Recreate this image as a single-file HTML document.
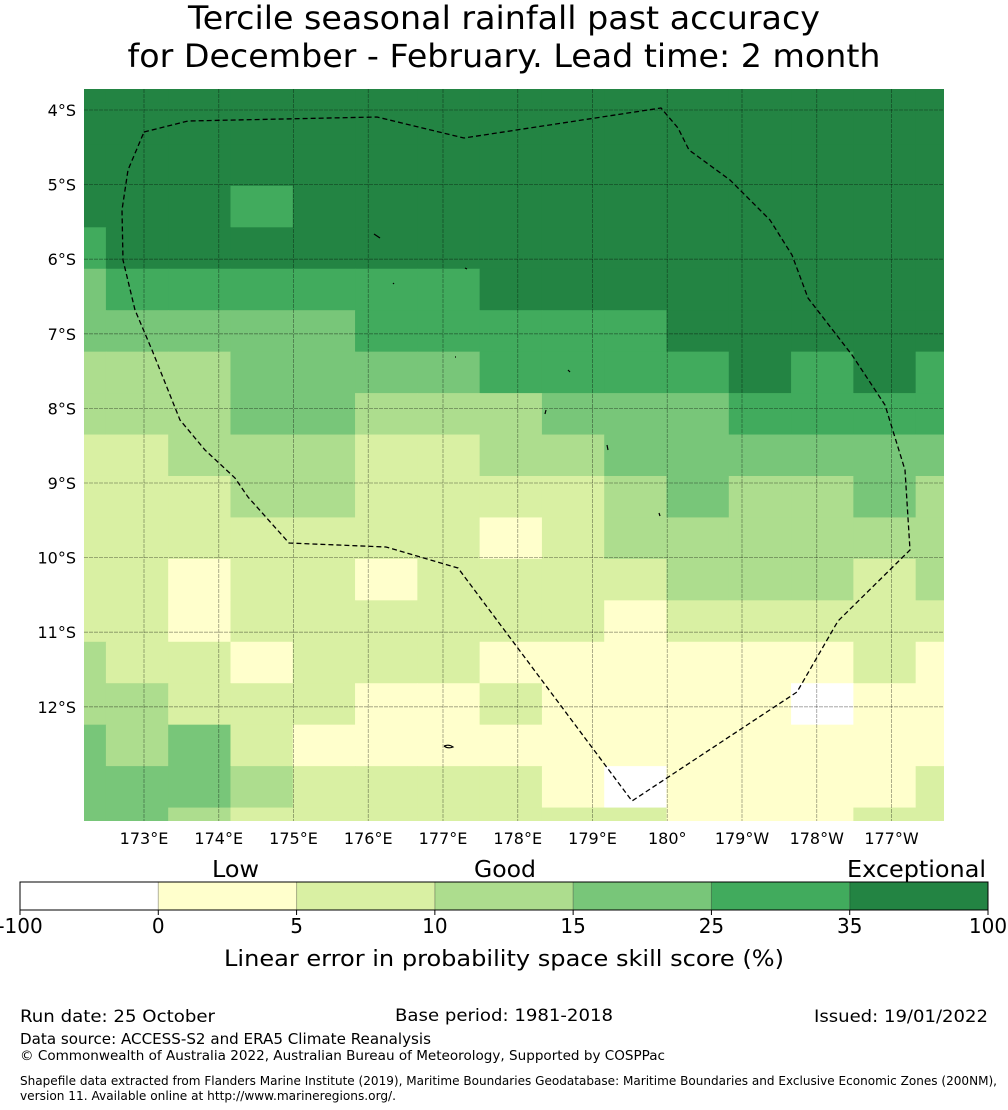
<!DOCTYPE html>
<html><head><meta charset="utf-8">
<style>
html,body{margin:0;padding:0;background:#fff;}
svg{display:block;font-family:"DejaVu Sans","Liberation Sans",sans-serif;}
</style></head>
<body>
<svg id="chart" width="1008" height="1110" viewBox="0 0 1008 1110" xmlns="http://www.w3.org/2000/svg">
  <text x="504" y="29" text-anchor="middle" font-size="32" textLength="632" lengthAdjust="spacingAndGlyphs">Tercile seasonal rainfall past accuracy</text>
  <text x="504" y="67" text-anchor="middle" font-size="32" textLength="753" lengthAdjust="spacingAndGlyphs">for December - February. Lead time: 2 month</text>
  <defs><clipPath id="mapclip"><rect x="84" y="89" width="860" height="732"/></clipPath></defs>
  <g id="cells" clip-path="url(#mapclip)"></g>
  <g id="grid" clip-path="url(#mapclip)"></g>
  <polyline id="eez" fill="none" stroke="#000" stroke-width="1.3" stroke-dasharray="5,3"
    points="144,132 188,121 377,117 464,138 661,108 678,128 689,150 730,180 770,220 792,255 808,298 852,355 885,405 905,470 910,550 838,621 797,692 632,801 458,568 386,547 289,543 248,497 235,478 205,450 180,420 152,350 135,310 123,260 122,210 128,170 144,132"/>
  <g stroke="#000" stroke-width="1.2" fill="none">
    <path d="M374,234 L380,238"/><path d="M465,268 L467,269"/><path d="M393,283 L394,284"/><path d="M455,357 L456,357"/>
    <path d="M568,370 L570,372"/><path d="M546,410 L545,414"/><path d="M607,445 L608,450"/><path d="M659,513 L660,516"/>
    <path d="M444,746 Q449,744 453,747 Q448,749 444,746"/>
  </g>
  <g id="xticks"></g>
  <g id="yticks"></g>
  <g id="colorbar"></g>
  <text x="212" y="877" font-size="23" textLength="47" lengthAdjust="spacingAndGlyphs">Low</text>
  <text x="474" y="877" font-size="23" textLength="62" lengthAdjust="spacingAndGlyphs">Good</text>
  <text x="847" y="877" font-size="23" textLength="139" lengthAdjust="spacingAndGlyphs">Exceptional</text>
  <text x="504" y="966" text-anchor="middle" font-size="22" textLength="560" lengthAdjust="spacingAndGlyphs">Linear error in probability space skill score (%)</text>
  <text x="20" y="1022" font-size="17" textLength="195" lengthAdjust="spacingAndGlyphs">Run date: 25 October</text>
  <text x="395" y="1021" font-size="17" textLength="218" lengthAdjust="spacingAndGlyphs">Base period: 1981-2018</text>
  <text x="988" y="1022" font-size="17" text-anchor="end" textLength="174" lengthAdjust="spacingAndGlyphs">Issued: 19/01/2022</text>
  <text x="20" y="1044" font-size="15" textLength="411" lengthAdjust="spacingAndGlyphs">Data source: ACCESS-S2 and ERA5 Climate Reanalysis</text>
  <text x="20" y="1060" font-size="13" textLength="645" lengthAdjust="spacingAndGlyphs">© Commonwealth of Australia 2022, Australian Bureau of Meteorology, Supported by COSPPac</text>
  <text x="20" y="1085" font-size="12" textLength="977" lengthAdjust="spacingAndGlyphs">Shapefile data extracted from Flanders Marine Institute (2019), Maritime Boundaries Geodatabase: Maritime Boundaries and Exclusive Economic Zones (200NM),</text>
  <text x="20" y="1100" font-size="12" textLength="376" lengthAdjust="spacingAndGlyphs">version 11. Available online at http://www.marineregions.org/.</text>
</svg>
<script>
// Skill category per cell (0..6 -> bins -100,0,5,10,15,25,35,100), rows north to south
const skillRows = [
 [6,6,6,6,6,6,6,6,6,6,6,6,6,6,6],
 [6,6,6,6,6,6,6,6,6,6,6,6,6,6,6],
 [6,6,6,6,6,6,6,6,6,6,6,6,6,6,6],
 [6,6,6,5,6,6,6,6,6,6,6,6,6,6,6],
 [5,6,6,6,6,6,6,6,6,6,6,6,6,6,6],
 [4,5,5,5,5,5,5,6,6,6,6,6,6,6,6],
 [4,4,4,4,4,5,5,5,5,5,6,6,6,6,6],
 [3,3,3,4,4,4,4,5,5,5,5,6,5,6,5],
 [3,3,3,4,4,3,3,3,4,4,4,5,5,5,5],
 [2,2,3,3,3,2,2,3,3,4,4,4,4,4,4],
 [2,2,2,3,3,2,2,2,2,3,4,3,3,4,3],
 [2,2,2,2,2,2,2,1,2,3,3,3,3,3,3],
 [2,2,1,2,2,1,2,2,2,2,3,3,3,2,3],
 [2,2,1,2,2,2,2,2,2,1,2,2,2,2,2],
 [3,2,2,1,2,2,2,1,1,1,1,1,1,2,1],
 [3,3,2,2,2,1,1,2,1,1,1,1,0,1,1],
 [4,3,4,2,1,1,1,1,1,1,1,1,1,1,1],
 [4,4,4,3,2,2,2,2,1,0,1,1,1,1,2],
 [4,4,3,2,2,2,2,2,2,2,1,1,1,2,2]
];
const binColors = ["#ffffff","#ffffcc","#d9f0a3","#addd8e","#78c679","#41ab5d","#238443"];
const binLabels = ["-100","0","5","10","15","25","35","100"];
const lonTicks = [173,174,175,176,177,178,179,180,181,182,183];
const lonLabels = ["173°E","174°E","175°E","176°E","177°E","178°E","179°E","180°","179°W","178°W","177°W"];
const latTicks = [4,5,6,7,8,9,10,11,12];
const latLabels = ["4°S","5°S","6°S","7°S","8°S","9°S","10°S","11°S","12°S"];
const lon0 = 171.657, lat0 = 3.35, dLon = 0.8333, dLat = 0.5556;

const NS = "http://www.w3.org/2000/svg";
const xScale = lon => 144 + (lon - 173) * 74.75;
const yScale = lat => 110 + (lat - 4) * 74.6;
function mk(tag, attrs, parent){const e=document.createElementNS(NS,tag);for(const k in attrs)e.setAttribute(k,attrs[k]);parent.appendChild(e);return e;}

const cells = document.getElementById('cells');
skillRows.forEach((row, r) => {
  row.forEach((v, c) => {
    const x1 = xScale(lon0 + c*dLon), x2 = xScale(lon0 + (c+1)*dLon);
    const y1 = yScale(lat0 + r*dLat), y2 = yScale(lat0 + (r+1)*dLat);
    const el = mk('rect', {x:x1, y:y1, width:x2-x1+0.5, height:y2-y1+0.5, fill:binColors[v]}, cells);
    
    
  });
});

const grid = document.getElementById('grid');
lonTicks.forEach(l => {
  const el = mk('line', {x1:xScale(l), x2:xScale(l), y1:89, y2:821, stroke:"#000", "stroke-opacity":0.4, "stroke-width":0.8, "stroke-dasharray":"4,1"}, grid);
  
  
});
latTicks.forEach(l => {
  const el = mk('line', {x1:84, x2:944, y1:yScale(l), y2:yScale(l), stroke:"#000", "stroke-opacity":0.4, "stroke-width":0.8, "stroke-dasharray":"4,1"}, grid);
  
  
});

const xt = document.getElementById('xticks');
lonTicks.forEach((l, i) => {
  const t = mk('text', {x:xScale(l), y:844, "text-anchor":"middle", "font-size":16}, xt);
  t.textContent = lonLabels[i];
  
  
});
const yt = document.getElementById('yticks');
latTicks.forEach((l, i) => {
  const t = mk('text', {x:76, y:yScale(l)+6, "text-anchor":"end", "font-size":16}, yt);
  t.textContent = latLabels[i];
  
  
});

const cb = document.getElementById('colorbar');
const cbX = i => 20 + i * (968 / binColors.length);
binColors.forEach((col, i) => {
  const el = mk('rect', {x:cbX(i), y:882, width:cbX(i+1)-cbX(i), height:28, fill:col}, cb);
  
  
  if (i > 0) {
    const d = mk('line', {x1:cbX(i), x2:cbX(i), y1:882, y2:910, stroke:"#000", "stroke-opacity":0.3, "stroke-width":1}, cb);
    
    
  }
});
const frame = mk('rect', {x:20, y:882, width:968, height:28, fill:"none", stroke:"#000", "stroke-width":1}, cb);


binLabels.forEach((lab, i) => {
  const tk = mk('line', {x1:cbX(i), x2:cbX(i), y1:910, y2:915, stroke:"#000"}, cb);
  
  
  const t = mk('text', {x:cbX(i), y:933, "text-anchor":"middle", "font-size":20}, cb);
  t.textContent = lab;
  
  
});
</script>
</body></html>
